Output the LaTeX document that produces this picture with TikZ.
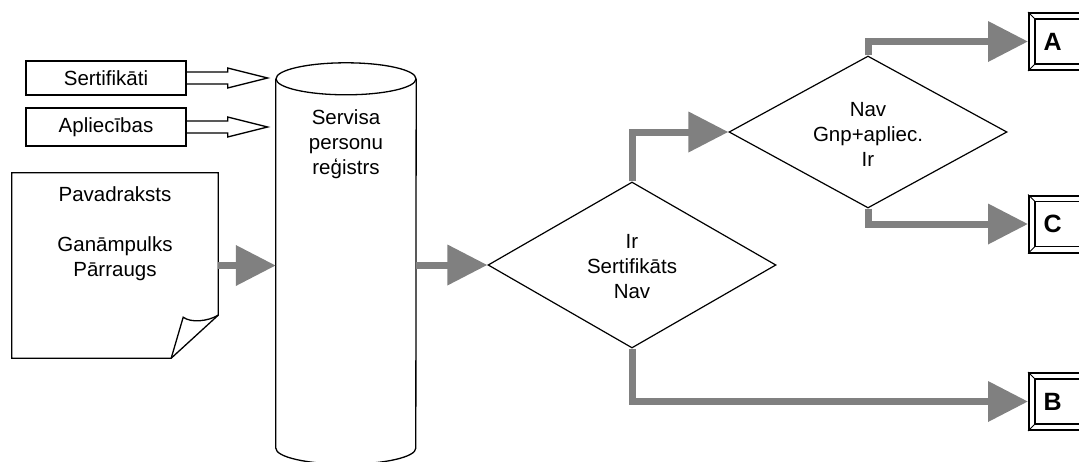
\documentclass[tikz,border=0pt]{standalone}
\usepackage{fontspec}
\setmainfont{Liberation Sans}
\usetikzlibrary{shapes.geometric,arrows.meta}
\definecolor{flowgray}{RGB}{128,128,128}
\begin{document}
\begin{tikzpicture}[x=1pt,y=-1pt,
  txt/.style={font=\fontsize{20.5}{25}\selectfont,align=center,inner sep=0pt},
  inbox/.style={draw,line width=1.3pt,minimum width=160pt,txt},
  decision/.style={diamond,draw,line width=1.2pt,inner sep=0pt},
  flow/.style={draw=flowgray,line width=7pt,-{Triangle[length=40pt,width=39pt]}},
  bevel/.style={draw,line width=2pt,anchor=west,minimum height=57pt,text width=50pt,inner xsep=14.5pt,align=left,font=\fontsize{25}{25}\selectfont\bfseries},
  hollow/.style={draw,line width=1.3pt}]

  \useasboundingbox (0,0) rectangle (1079,461);
  \clip (0,0) rectangle (1079,461);

  %input boxes
  \node (cert) [inbox,minimum height=34pt] at (106,78) {Sertifikāti};
  \node (appl) [inbox,minimum height=38pt] at (106,127) {Apliecības};
  \foreach \n in {cert,appl}
    \draw [hollow] (\n.east) ++(0,-6) -- ++(41,0) -- ++(0,-4) -- ++(40,10) -- ++(-40,10) -- ++(0,-4) -- ++(-41,0);

  %document
  \node (doc) [minimum width=206pt,minimum height=185pt,inner sep=0pt,
    label={[txt,anchor=north,yshift=-14pt]north:Pavadraksts\\[25pt]Ganāmpulks\\Pārraugs}] at (115,265.5) {};
  \draw [line width=1.3pt] (doc.north west) -- (doc.north east) -- ([yshift=43pt]doc.south east)
    -- ([xshift=-47pt]doc.south east) -- (doc.south west) -- cycle;
  \draw [line width=1.3pt] ([xshift=-47pt]doc.south east) -- ([xshift=-35pt,yshift=41pt]doc.south east)
    .. controls +(8pt,-6pt) and +(-10pt,-6pt) .. ([yshift=43pt]doc.south east);

  %register
  \node (reg) [minimum width=140pt,minimum height=369pt,inner sep=0pt,
    label={[txt,anchor=north,yshift=-31pt]north:Servisa\\personu\\reģistrs}] at (346,263.5) {};
  \draw [line width=1.3pt] (reg.north west) -- (reg.south west)
    arc [start angle=180,end angle=360,x radius=70pt,y radius=16pt] -- (reg.north east);
  \draw [line width=1.3pt] (reg.north) ellipse [x radius=70pt,y radius=16pt];

  %decisions
  \node (dA) [decision,minimum width=288pt,minimum height=166pt,
    label={[txt,anchor=center,yshift=-2pt]center:Ir\\Sertifikāts\\Nav}] at (632,265) {};
  \node (dB) [decision,minimum width=278pt,minimum height=152pt,
    label={[txt,anchor=center,yshift=-2pt]center:Nav\\Gnp+apliec.\\Ir}] at (868,132) {};

  %outputs
  \node (bA) [bevel] at (1028,41.5) {A};
  \node (bC) [bevel] at (1028,224) {C};
  \node (bB) [bevel] at (1028,401.5) {B};
  \foreach \b in {bA,bC,bB}{
    \draw [line width=1.3pt] ([shift={(7,7)}]\b.north west) rectangle ([shift={(-7,-7)}]\b.south east);
    \draw [line width=1pt] (\b.north west) -- ++(7,7) (\b.south west) -- ++(7,-7)
      (\b.north east) -- ++(-7,7) (\b.south east) -- ++(-7,-7);
  }

  %flow
  \draw [flow] (doc.east) -- (doc.east -| reg.west);
  \draw [flow] (reg.east |- dA.west) -- (dA.west);
  \draw [flow] (dA.north) |- (dB.west);
  \draw [flow] (dB.north) |- (bA.west);
  \draw [flow] (dB.south) |- (bC.west);
  \draw [flow] (dA.south) |- (bB.west);
\end{tikzpicture}
\end{document}
